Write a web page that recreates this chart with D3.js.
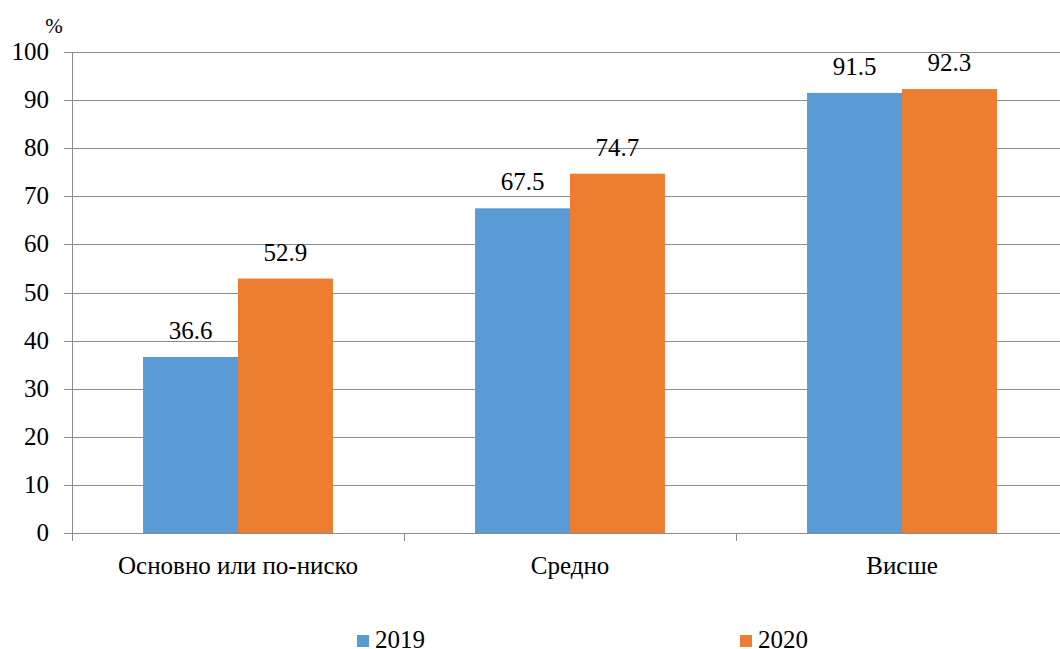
<!DOCTYPE html>
<html><head><meta charset="utf-8">
<script src="https://cdn.jsdelivr.net/npm/d3@7"></script>
</head><body style="margin:0"><svg id="c" width="1060" height="649"></svg>
<script>
const categories = ["Основно или по-ниско", "Средно", "Висше"];
const seriesNames = ["2019", "2020"];
const values2019 = [36.6, 67.5, 91.5];
const values2020 = [52.9, 74.7, 92.3];
const yTicks = [0, 10, 20, 30, 40, 50, 60, 70, 80, 90, 100];
const colors = ["#5B9BD5", "#ED7D31"];

const svg = d3.select("#c");
const pl = 72, pr = 1068, pt = 52, pb = 533;
const x0 = d3.scaleBand().domain(categories).range([pl, pr]).paddingInner(0.428).paddingOuter(0.214);
const x1 = d3.scaleBand().domain(seriesNames).range([0, x0.bandwidth()]);
const y = d3.scaleLinear().domain([0, 100]).range([pb, pt]);

svg.append("g").selectAll("line").data(yTicks).join("line")
  .attr("x1", pl - 8).attr("x2", 1060)
  .attr("y1", d => Math.round(y(d)) + 0.5).attr("y2", d => Math.round(y(d)) + 0.5)
  .attr("stroke", "#8c8c8c").attr("stroke-width", 1);

svg.append("line").attr("x1", pl + 0.5).attr("x2", pl + 0.5)
  .attr("y1", pt).attr("y2", pb + 8).attr("stroke", "#8c8c8c");

const bounds = categories.map((c, i) => pl + x0.step() * (i + 1));
svg.append("g").selectAll("line").data(bounds).join("line")
  .attr("x1", d => Math.round(d) + 0.5).attr("x2", d => Math.round(d) + 0.5)
  .attr("y1", pb).attr("y2", pb + 8).attr("stroke", "#8c8c8c");

svg.append("g").selectAll("text").data(yTicks).join("text")
  .attr("x", 49).attr("y", d => y(d) + 8)
  .attr("text-anchor", "end").attr("font-size", 25)
  .attr("font-family", "Liberation Serif").text(d => d);

svg.append("text").attr("x", 54).attr("y", 33).attr("text-anchor", "middle")
  .attr("font-size", 21).attr("font-family", "Liberation Serif").text("%");

const data = [values2019, values2020];
const g = svg.append("g");
categories.forEach((c, i) => {
  seriesNames.forEach((s, j) => {
    const v = data[j][i];
    const bx = x0(c) + x1(s);
    g.append("rect").attr("x", bx).attr("y", y(v))
      .attr("width", x1.bandwidth()).attr("height", y(0) - y(v)).attr("fill", colors[j]);
    g.append("text").attr("x", bx + x1.bandwidth() / 2).attr("y", y(v) - 18)
      .attr("text-anchor", "middle").attr("font-size", 25)
      .attr("font-family", "Liberation Serif").text(v.toFixed(1));
  });
  svg.append("text").attr("x", x0(c) + x0.bandwidth() / 2).attr("y", 574)
    .attr("text-anchor", "middle").attr("font-size", 25)
    .attr("font-family", "Liberation Serif").text(c);
});

const legendX = [357, 740];
seriesNames.forEach((s, j) => {
  svg.append("rect").attr("x", legendX[j]).attr("y", 635).attr("width", 12).attr("height", 12).attr("fill", colors[j]);
  svg.append("text").attr("x", legendX[j] + 18).attr("y", 648).attr("font-size", 25)
    .attr("font-family", "Liberation Serif").text(s);
});
</script></body></html>
